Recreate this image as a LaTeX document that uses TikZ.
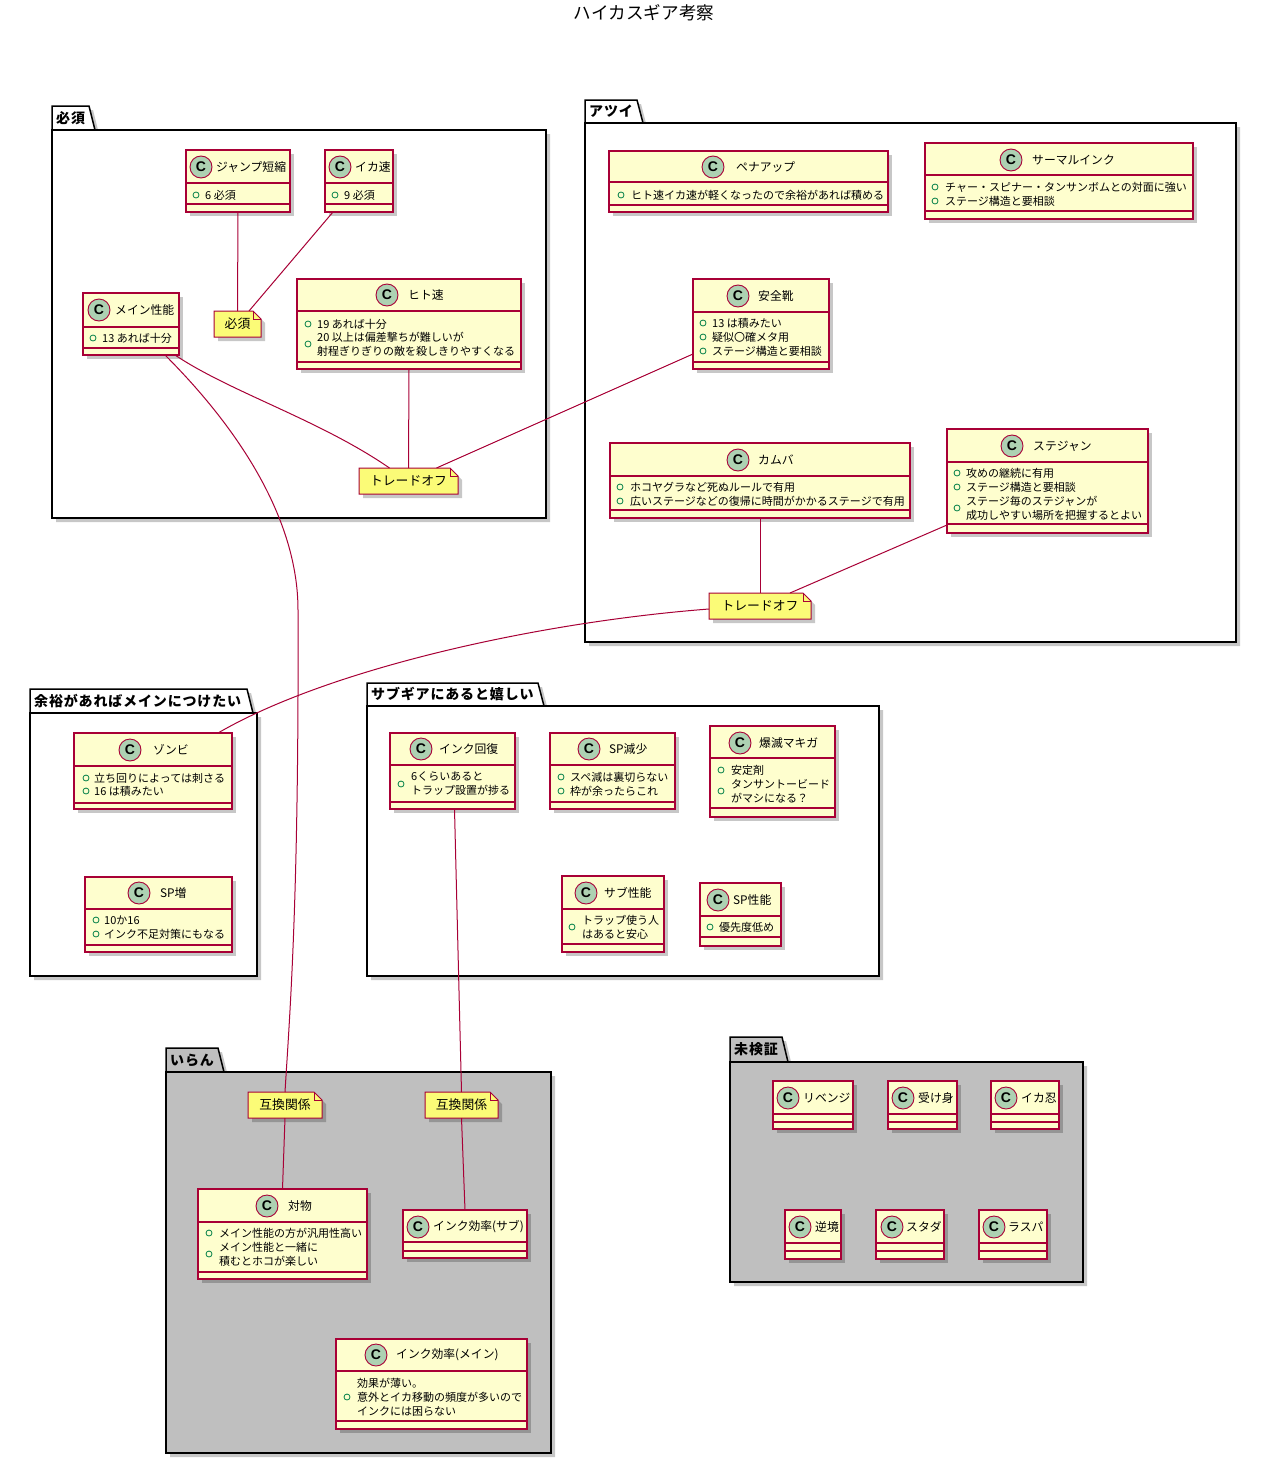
\documentclass[tikz,border=0pt]{standalone}
\usepackage{fontspec}
\setmainfont{Noto Sans CJK JP}
\newfontfamily\cfont{Liberation Sans}
\newfontfamily\pkgfont[LetterSpace=6]{Noto Sans CJK JP}
\usetikzlibrary{calc}
\definecolor{clsfill}{HTML}{FEFECE}
\definecolor{umlred}{HTML}{A80036}
\definecolor{circfill}{HTML}{ADD1B2}
\definecolor{notefill}{HTML}{FBFB77}
\definecolor{bulgreen}{HTML}{038048}
\definecolor{pkggray}{HTML}{BFBFBF}
\tikzset{
 clsbox/.style={draw=umlred, fill=clsfill, line width=1.2pt, inner sep=0, outer sep=0},
 clsline/.style={draw=umlred, line width=1.2pt},
 shadowfill/.style={fill=black, opacity=0.22},
 circ/.style={circle, draw=umlred, fill=circfill, line width=0.9pt, minimum size=22pt, inner sep=0, font=\cfont\bfseries\fontsize{14}{14}\selectfont},
 cname/.style={inner sep=0, font=\fontsize{11.8}{13}\selectfont},
 attr/.style={inner sep=0, align=left, font=\fontsize{11}{14}\selectfont},
 bul/.style={draw=bulgreen, line width=0.8pt},
 notebox/.style={inner sep=0, outer sep=0, font=\fontsize{12.8}{14}\selectfont},
 notedraw/.style={draw=umlred, fill=notefill, line width=1pt},
 conn/.style={draw=umlred, line width=1pt},
 pkg/.style={draw=black, line width=1.5pt},
 pkgtitle/.style={inner sep=0, anchor=west, font=\pkgfont\bfseries\fontsize{14}{16}\selectfont},
}
% id x1 y1 x2 y2 yh ya
\newcommand\umlclass[7]{%
 \fill[shadowfill] (#2+4,#3+4) rectangle (#4+4,#5+4);
 \node[clsbox, anchor=north west, minimum width=#4-#2, minimum height=#5-#3] (#1) at (#2,#3) {};
 \draw[clsline] (#2,#6) -- (#4,#6) (#2,#7) -- (#4,#7);}
% id cx cy nx name
\newcommand\umlhead[5]{%
 \node[circ] (#1-c) at (#2,#3) {C};
 \node[cname, anchor=west] (#1-t) at (#4,#3) {#5};}
% id bx tx y text
\newcommand\umlattr[5]{%
 \draw[bul] (#2,#4) circle (3);
 \node[attr, anchor=west] (#1) at (#3,#4) {#5};}
% id x1 y1 x2 y2 text
\newcommand\umlnote[6]{%
 \fill[shadowfill] (#2+4,#3+4) -- (#4-4,#3+4) -- (#4+4,#3+12) -- (#4+4,#5+4) -- (#2+4,#5+4) -- cycle;
 \draw[notedraw] (#2,#3) -- (#4-8,#3) -- (#4,#3+8) -- (#4,#5) -- (#2,#5) -- cycle;
 \draw[notedraw, fill=none] (#4-8,#3) -- (#4-8,#3+8) -- (#4,#3+8);
 \node[notebox, anchor=north west, minimum width=#4-#2, minimum height=#5-#3] (#1) at (#2,#3) {#6};}
% id x1 ty tr by x2 y2 fill title
\newcommand\umlpkg[9]{%
 \fill[shadowfill] (#2+4,#3+4) -- (#4+4,#3+4) -- (#4+10,#5+4) -- (#6+4,#5+4) -- (#6+4,#7+4) -- (#2+4,#7+4) -- cycle;
 \filldraw[pkg, fill=#8] (#2,#5) -- (#2,#3) -- (#4,#3) -- (#4+6,#5);
 \filldraw[pkg, fill=#8] (#2,#5) rectangle (#6,#7);
 \node[pkgtitle] (#1) at (#2+4,{(#3+#5)/2}) {#9};}

\begin{document}
\begin{tikzpicture}[x=1pt,y=-1pt]
\useasboundingbox (0,0) rectangle (1287,1464);
\fill[white] (0,0) rectangle (1287,1464);
\node[font=\fontsize{17.6}{18}\selectfont, inner sep=0] (title) at (644,13) {ハイカスギア考察};

% packages
\umlpkg{p1}{52}{106}{89}{130}{546}{518}{white}{必須}
\umlpkg{p2}{585}{100}{637}{123}{1236}{642}{white}{アツイ}
\umlpkg{p3}{30}{689}{247}{713}{257}{976}{white}{余裕があればメインにつけたい}
\umlpkg{p4}{367}{683}{538}{706}{879}{976}{white}{サブギアにあると嬉しい}
\umlpkg{p5}{166}{1048}{218}{1072}{551}{1453}{pkggray}{いらん}
\umlpkg{p6}{730}{1037}{782}{1062}{1083}{1282}{pkggray}{未検証}

% 必須
\umlclass{jump}{186}{150}{290}{212}{183}{204}
\umlhead{jump}{201}{167}{216}{ジャンプ短縮}
\umlattr{jump-a1}{196}{205}{195}{6 必須}
\umlclass{ika}{325}{150}{393}{212}{183}{204}
\umlhead{ika}{340}{167}{355}{イカ速}
\umlattr{ika-a1}{335}{344}{195}{9 必須}
\umlclass{main}{83}{293}{179}{355}{327}{348}
\umlhead{main}{99}{310}{115}{メイン性能}
\umlattr{main-a1}{93}{102}{338}{13 あれば十分}
\umlclass{hito}{297}{279}{521}{369}{311}{362}
\umlhead{hito}{387}{295}{408}{ヒト速}
\umlattr{hito-a1}{308}{317}{324}{19 あれば十分}
\umlattr{hito-a2}{308}{317}{344}{20 以上は偏差撃ちが難しいが\\射程ぎりぎりの敵を殺しきりやすくなる}
\umlnote{hissu}{214}{311}{261}{337}{必須}
\umlnote{trade1}{359}{468}{458}{494}{トレードオフ}

% アツイ
\umlclass{pena}{609}{151}{888}{212}{182}{205}
\umlhead{pena}{713}{167}{736}{ペナアップ}
\umlattr{pena-a1}{621}{631}{195}{ヒト速イカ速が軽くなったので余裕があれば積める}
\umlclass{thermal}{925}{143}{1193}{219}{175}{211}
\umlhead{thermal}{1011}{160}{1032}{サーマルインク}
\umlattr{thermal-a1}{935}{945}{187}{チャー・スピナー・タンサンボムとの対面に強い}
\umlattr{thermal-a2}{935}{945}{201}{ステージ構造と要相談}
\umlclass{anzen}{693}{279}{829}{369}{312}{362}
\umlhead{anzen}{738}{296}{758}{安全靴}
\umlattr{anzen-a1}{703}{712}{323}{13 は積みたい}
\umlattr{anzen-a2}{703}{712}{337}{疑似〇確メタ用}
\umlattr{anzen-a3}{703}{712}{351}{ステージ構造と要相談}
\umlclass{kamuba}{610}{443}{910}{518}{476}{510}
\umlhead{kamuba}{738}{460}{758}{カムバ}
\umlattr{kamuba-a1}{620}{630}{487}{ホコヤグラなど死ぬルールで有用}
\umlattr{kamuba-a2}{620}{630}{501}{広いステージなどの復帰に時間がかかるステージで有用}
\umlclass{stejan}{947}{429}{1148}{533}{462}{524}
\umlhead{stejan}{1012}{446}{1033}{ステジャン}
\umlattr{stejan-a1}{957}{966}{473}{攻めの継続に有用}
\umlattr{stejan-a2}{957}{966}{487}{ステージ構造と要相談}
\umlattr{stejan-a3}{957}{966}{508}{ステージ毎のステジャンが\\成功しやすい場所を把握するとよい}
\umlnote{trade2}{709}{593}{811}{619}{トレードオフ}

% 余裕があればメインにつけたい
\umlclass{zombie}{74}{733}{232}{809}{766}{803}
\umlhead{zombie}{130}{750}{153}{ゾンビ}
\umlattr{zombie-a1}{86}{94}{778}{立ち回りによっては刺さる}
\umlattr{zombie-a2}{86}{94}{791}{16 は積みたい}
\umlclass{spzo}{85}{877}{232}{952}{909}{945}
\umlhead{spzo}{139}{893}{160}{SP増}
\umlattr{spzo-a1}{96}{104}{920}{10か16}
\umlattr{spzo-a2}{96}{104}{934}{インク不足対策にもなる}

% サブギアにあると嬉しい
\umlclass{inkk}{390}{733}{515}{809}{765}{802}
\umlhead{inkk}{421}{749}{439}{インク回復}
\umlattr{inkk-a1}{401}{411}{784}{6くらいあると\\トラップ設置が捗る}
\umlclass{spgen}{550}{733}{675}{809}{765}{802}
\umlhead{spgen}{589}{749}{609}{SP減少}
\umlattr{spgen-a1}{561}{570}{777}{スペ減は裏切らない}
\umlattr{spgen-a2}{561}{570}{791}{枠が余ったらこれ}
\umlclass{baku}{710}{726}{835}{817}{758}{808}
\umlhead{baku}{740}{743}{759}{爆滅マキガ}
\umlattr{baku-a1}{721}{731}{770}{安定剤}
\umlattr{baku-a2}{721}{731}{791}{タンサントービード\\がマシになる？}
\umlclass{subsei}{562}{876}{664}{952}{909}{944}
\umlhead{subsei}{586}{893}{604}{サブ性能}
\umlattr{subsei-a1}{572}{582}{927}{トラップ使う人\\はあると安心}
\umlclass{spsei}{700}{883}{781}{946}{916}{937}
\umlhead{spsei}{718}{900}{733}{SP性能}
\umlattr{spsei-a1}{710}{719}{927}{優先度低め}

% いらん
\umlnote{gokan1}{248}{1092}{322}{1118}{互換関係}
\umlnote{gokan2}{425}{1092}{498}{1118}{互換関係}
\umlclass{taibutsu}{198}{1189}{367}{1279}{1222}{1272}
\umlhead{taibutsu}{267}{1206}{288}{対物}
\umlattr{taibutsu-a1}{209}{219}{1233}{メイン性能の方が汎用性高い}
\umlattr{taibutsu-a2}{209}{219}{1254}{メイン性能と一緒に\\積むとホコが楽しい}
\umlclass{inksub}{403}{1210}{527}{1258}{1242}{1251}
\umlhead{inksub}{418}{1227}{433}{インク効率(サブ)}
\umlclass{inkmain}{336}{1339}{527}{1429}{1371}{1421}
\umlhead{inkmain}{376}{1355}{396}{インク効率(メイン)}
\umlattr{inkmain-a1}{347}{357}{1397}{効果が薄い。\\意外とイカ移動の頻度が多いので\\インクには困らない}

% 未検証
\umlclass{ribenji}{773}{1081}{853}{1129}{1114}{1122}
\umlhead{ribenji}{788}{1098}{803}{リベンジ}
\umlclass{ukemi}{888}{1081}{957}{1129}{1114}{1122}
\umlhead{ukemi}{903}{1098}{918}{受け身}
\umlclass{ikanin}{991}{1081}{1059}{1129}{1114}{1122}
\umlhead{ikanin}{1006}{1098}{1021}{イカ忍}
\umlclass{gyakkyo}{785}{1210}{841}{1259}{1243}{1251}
\umlhead{gyakkyo}{800}{1227}{815}{逆境}
\umlclass{sutada}{876}{1210}{944}{1259}{1243}{1251}
\umlhead{sutada}{892}{1227}{906}{スタダ}
\umlclass{raspa}{979}{1210}{1047}{1259}{1243}{1251}
\umlhead{raspa}{994}{1227}{1008}{ラスパ}

% connectors
\draw[conn] (jump.south) -- (hissu.north);
\draw[conn] ([xshift=8]ika.south west) -- ([xshift=-12]hissu.north east);
\draw[conn] ([xshift=44]main.south) .. controls (230,392) and (320,420) .. ([xshift=-19]trade1.north);
\draw[conn] ([xshift=34]main.south) .. controls (240,430) and (298,520) .. (298,610) .. controls (299,900) and (290,1010) .. (gokan1.north);
\draw[conn] (hito.south) -- (trade1.north);
\draw[conn] ([yshift=15]anzen.south west) -- ([xshift=28]trade1.north);
\draw[conn] (kamuba.south) -- (trade2.north);
\draw[conn] ([yshift=8]stejan.south west) -- ([xshift=30]trade2.north);
\draw[conn] ([yshift=-3]trade2.west) .. controls (540,622) and (330,668) .. ([xshift=-14]zombie.north east);
\draw[conn] ([xshift=2]inkk.south) -- (gokan2.north);
\draw[conn] (gokan1.south) -- (taibutsu.north);
\draw[conn] (gokan2.south) -- (inksub.north);
\end{tikzpicture}
\end{document}
